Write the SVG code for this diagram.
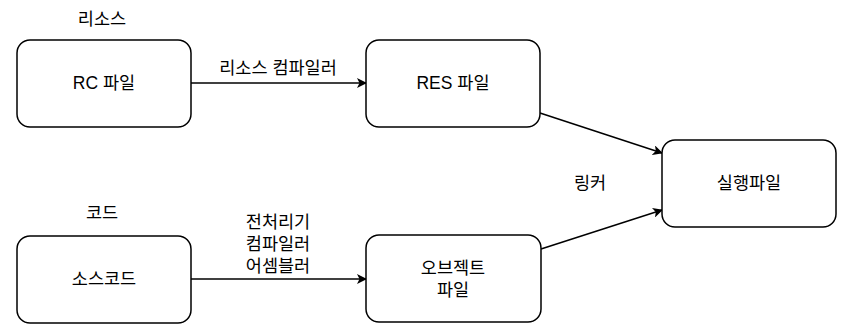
<svg xmlns="http://www.w3.org/2000/svg" width="865" height="334" viewBox="0 0 865 334">
<style>
.box{fill:#fff;stroke:#000;stroke-width:1.5}
.t{font-family:"Liberation Sans","Noto Sans CJK KR",sans-serif;font-size:17.5px;fill:#000;text-anchor:middle;dominant-baseline:central}
.e{fill:none;stroke:#000;stroke-width:1.5}
</style>
<defs>
<marker id="ah" viewBox="0 0 10 10" refX="9" refY="5" markerWidth="10" markerHeight="10" markerUnits="userSpaceOnUse" orient="auto">
<path d="M0,0 L10,5 L0,10 L2.5,5 Z" fill="#000"/>
</marker>
</defs>
<rect width="865" height="334" fill="#fff"/>
<g id="connectors">
<line class="e" x1="191" y1="83" x2="366" y2="83" marker-end="url(#ah)"/>
<line class="e" x1="191" y1="279" x2="366" y2="279" marker-end="url(#ah)"/>
<line class="e" x1="540" y1="113" x2="662" y2="153" marker-end="url(#ah)"/>
<line class="e" x1="541" y1="249" x2="662" y2="210" marker-end="url(#ah)"/>
<text class="t" x="278" y="68">리소스 컴파일러</text>
<text class="t" x="278" y="222">전처리기</text>
<text class="t" x="278" y="244">컴파일러</text>
<text class="t" x="278" y="266">어셈블러</text>
<text class="t" x="590" y="183">링커</text>
</g>
<g id="label-resource"><text class="t" x="102" y="19">리소스</text></g>
<g id="label-code"><text class="t" x="102" y="213">코드</text></g>
<g id="rc"><rect class="box" x="17" y="40" width="174" height="87" rx="13"/><text class="t" x="104" y="83">RC 파일</text></g>
<g id="res"><rect class="box" x="366" y="40" width="174" height="87" rx="13"/><text class="t" x="453" y="83">RES 파일</text></g>
<g id="exe"><rect class="box" x="662" y="140" width="174" height="87" rx="13"/><text class="t" x="749" y="183">실행파일</text></g>
<g id="src"><rect class="box" x="17" y="236" width="174" height="87" rx="13"/><text class="t" x="104" y="279">소스코드</text></g>
<g id="obj"><rect class="box" x="366" y="235" width="175" height="87" rx="13"/><text class="t" x="453" y="268">오브젝트</text><text class="t" x="453" y="290">파일</text></g>
</svg>
